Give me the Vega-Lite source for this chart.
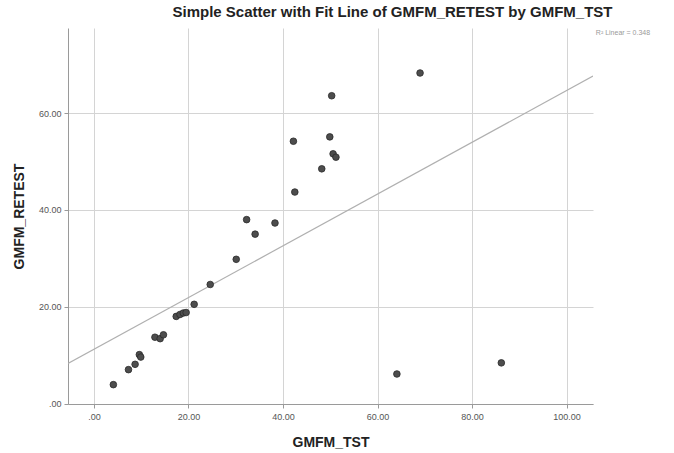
{
  "$schema": "https://vega.github.io/schema/vega-lite/v6.json",
  "autosize": {"type": "none"},
  "padding": {"left": 68, "top": 28, "right": 81, "bottom": 49},
  "width": 525,
  "height": 376,
  "background": "white",
  "config": {
    "font": "Liberation Sans",
    "view": {"stroke": null},
    "axis": {
      "gridColor": "#d4d4d4",
      "gridWidth": 1,
      "domainColor": "#9a9a9a",
      "tickColor": "#9a9a9a",
      "tickSize": 4,
      "labelFont": "Liberation Sans",
      "labelFontSize": 9,
      "labelColor": "#555555",
      "titleFont": "Liberation Sans",
      "titleFontSize": 14,
      "titleFontWeight": "bold",
      "titleColor": "#222222"
    }
  },
  "title": {
    "text": "Simple Scatter with Fit Line of GMFM_RETEST by GMFM_TST",
    "font": "Liberation Sans",
    "fontSize": 15,
    "fontWeight": "bold",
    "color": "#222222",
    "anchor": "middle",
    "dx": 62,
    "offset": 8
  },
  "data": {
    "values": [
      {"tst": 4.1, "retest": 3.9},
      {"tst": 7.3, "retest": 7.0},
      {"tst": 8.7, "retest": 8.1},
      {"tst": 9.6, "retest": 10.1},
      {"tst": 9.9, "retest": 9.6},
      {"tst": 12.9, "retest": 13.7},
      {"tst": 14.0, "retest": 13.4},
      {"tst": 14.7, "retest": 14.2},
      {"tst": 17.4, "retest": 18.0},
      {"tst": 18.2, "retest": 18.4},
      {"tst": 18.9, "retest": 18.7},
      {"tst": 19.5, "retest": 18.8},
      {"tst": 21.2, "retest": 20.5},
      {"tst": 24.6, "retest": 24.6},
      {"tst": 30.1, "retest": 29.8},
      {"tst": 32.3, "retest": 38.0},
      {"tst": 34.1, "retest": 35.0},
      {"tst": 38.3, "retest": 37.3},
      {"tst": 42.2, "retest": 54.2},
      {"tst": 42.5, "retest": 43.7},
      {"tst": 48.2, "retest": 48.5},
      {"tst": 49.9, "retest": 55.1},
      {"tst": 50.3, "retest": 63.6},
      {"tst": 50.6, "retest": 51.6},
      {"tst": 51.2, "retest": 50.9},
      {"tst": 64.1, "retest": 6.1},
      {"tst": 69.0, "retest": 68.3},
      {"tst": 86.2, "retest": 8.4}
    ]
  },
  "layer": [
    {
      "transform": [{"regression": "retest", "on": "tst", "extent": [-5.5, 105.6]}],
      "mark": {"type": "line", "color": "#b0b0b0", "strokeWidth": 1.2, "clip": true},
      "encoding": {
        "x": {"field": "tst", "type": "quantitative"},
        "y": {"field": "retest", "type": "quantitative"}
      }
    },
    {
      "mark": {"type": "point", "filled": true, "fill": "#4d4d4d", "stroke": "#2a2a2a", "strokeWidth": 0.8, "size": 44, "opacity": 1},
      "encoding": {
        "x": {
          "field": "tst", "type": "quantitative",
          "scale": {"domain": [-5.5, 105.6], "nice": false, "zero": false},
          "axis": {"values": [0, 20, 40, 60, 80, 100], "title": "GMFM_TST", "titlePadding": 14, "labelPadding": 4,
                   "labelExpr": "datum.value == 0 ? '.00' : format(datum.value, '.2f')"}
        },
        "y": {
          "field": "retest", "type": "quantitative",
          "scale": {"domain": [-0.1, 77.6], "nice": false, "zero": false},
          "axis": {"values": [0, 20, 40, 60], "title": "GMFM_RETEST", "titlePadding": 12, "labelPadding": 3,
                   "labelExpr": "datum.value == 0 ? '.00' : format(datum.value, '.2f')"}
        }
      }
    },
    {
      "data": {"values": [{"label": "R² Linear = 0.348"}]},
      "mark": {"type": "text", "align": "left", "baseline": "middle", "fontSize": 7, "color": "#9a9a9a", "font": "Liberation Sans"},
      "encoding": {
        "x": {"datum": 106.2},
        "y": {"datum": 76.5},
        "text": {"field": "label", "type": "nominal"}
      }
    }
  ]
}
